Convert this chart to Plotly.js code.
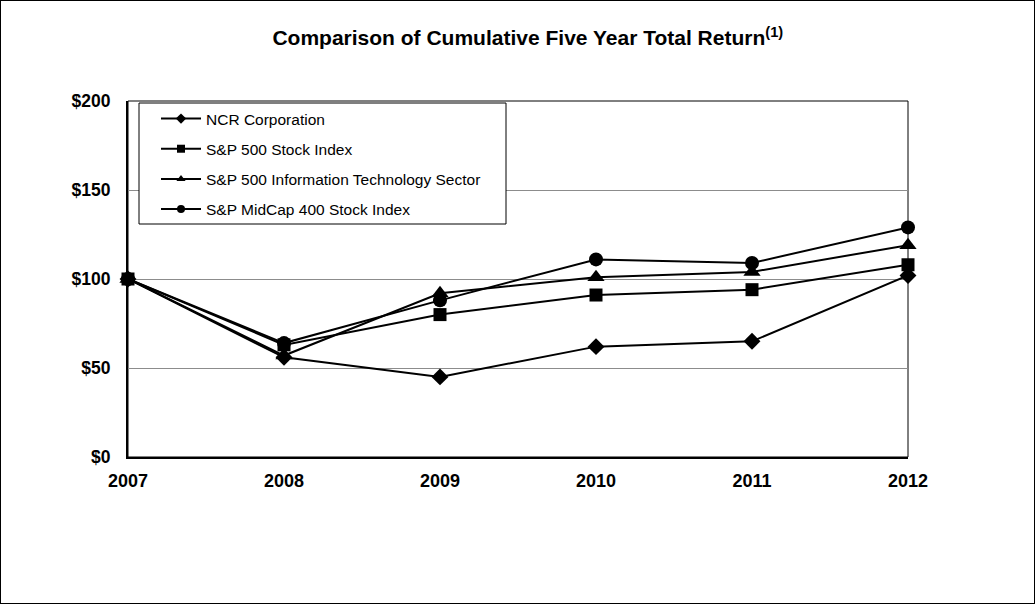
<!DOCTYPE html>
<html><head><meta charset="utf-8">
<script src="https://cdn.plot.ly/plotly-3.0.1.min.js"></script>
<style>
html,body{margin:0;padding:0;background:#fff;}
#wrap{width:1035px;height:604px;box-sizing:border-box;border:1px solid #000;overflow:hidden;}
</style></head>
<body><div id="wrap"><div id="chart"></div></div>
<script>
const years = [2007, 2008, 2009, 2010, 2011, 2012];
const ncr = [100, 56, 45, 62, 65, 102];
const sp500 = [100, 63, 80, 91, 94, 108];
const spIT = [100, 57, 92, 101, 104, 119];
const midcap = [100, 64, 88, 111, 109, 129];
const seriesNames = ['NCR Corporation', 'S&P 500 Stock Index', 'S&P 500 Information Technology Sector', 'S&P MidCap 400 Stock Index'];
const yTickVals = [0, 50, 100, 150, 200];
const yTickText = ['$0', '$50', '$100', '$150', '$200'];

const FONT = 'Liberation Sans, Arial, sans-serif';
const symbols = ['diamond', 'square', 'triangle-up', 'circle'];
const sizes = [13, 13, 15, 14];
const series = [ncr, sp500, spIT, midcap];
const data = [];
series.forEach((vals, i) => {
  data.push({
    x: years, y: vals, name: seriesNames[i], type: 'scatter', mode: 'lines+markers',
    showlegend: false, cliponaxis: false,
    line: {color: '#000', width: 2},
    marker: {symbol: symbols[i], size: sizes[i], color: '#000'}
  });
});
series.forEach((vals, i) => {
  data.push({
    x: [null], y: [null], name: seriesNames[i], type: 'scatter', mode: 'lines+markers',
    legendgroup: 'g' + i, showlegend: true,
    line: {color: '#000', width: 2},
    marker: {symbol: symbols[i], size: 8, color: '#000'}
  });
});

const W = 1033, H = 602;
const PW = 780, PH = 356;
const layout = {
  width: W, height: H,
  margin: {l: 127, r: 126, t: 100, b: 146, pad: 0},
  paper_bgcolor: '#fff', plot_bgcolor: '#fff',
  font: {family: FONT, color: '#000'},
  title: {text: '<b>Comparison of Cumulative Five Year Total Return<sup>(1)</sup></b>',
    font: {size: 21, family: FONT, color: '#000'},
    x: 0.51, xanchor: 'center', y: 1 - 37 / H, yanchor: 'middle'},
  xaxis: {range: [2007, 2012], tickvals: years, ticktext: years.map(String),
    showgrid: false, zeroline: false, showline: true, linecolor: '#000', linewidth: 2,
    ticks: '', ticklabelstandoff: 6,
    tickfont: {size: 18, family: FONT, color: '#000', weight: 'bold'}},
  yaxis: {range: [0, 200], tickvals: yTickVals, ticktext: yTickText,
    showgrid: true, gridcolor: '#8c8c8c', gridwidth: 1, zeroline: false,
    showline: true, linecolor: '#000', linewidth: 2, ticks: '', ticklabelstandoff: 12,
    tickfont: {size: 17.5, family: FONT, color: '#000', weight: 'bold'}},
  showlegend: true,
  legend: {x: (155 - 127) / PW, y: (457 - 102) / PH, xanchor: 'left', yanchor: 'top',
    bgcolor: 'rgba(0,0,0,0)', borderwidth: 0, tracegroupgap: 7, itemwidth: 40,
    font: {size: 15.5, family: FONT, color: '#000'}},
  shapes: [
    {type: 'rect', xref: 'paper', yref: 'paper', x0: 0, x1: 1, y0: 0, y1: 1,
      line: {color: '#000', width: 1}, layer: 'below'},
    {type: 'rect', xref: 'paper', yref: 'paper', x0: (138 - 127) / PW, x1: (505 - 127) / PW,
      y0: (457 - 224) / PH, y1: (457 - 103) / PH,
      line: {color: '#000', width: 1}, fillcolor: '#fff', layer: 'above'}
  ]
};
Plotly.newPlot('chart', data, layout, {displayModeBar: false, staticPlot: true});
</script></body></html>
